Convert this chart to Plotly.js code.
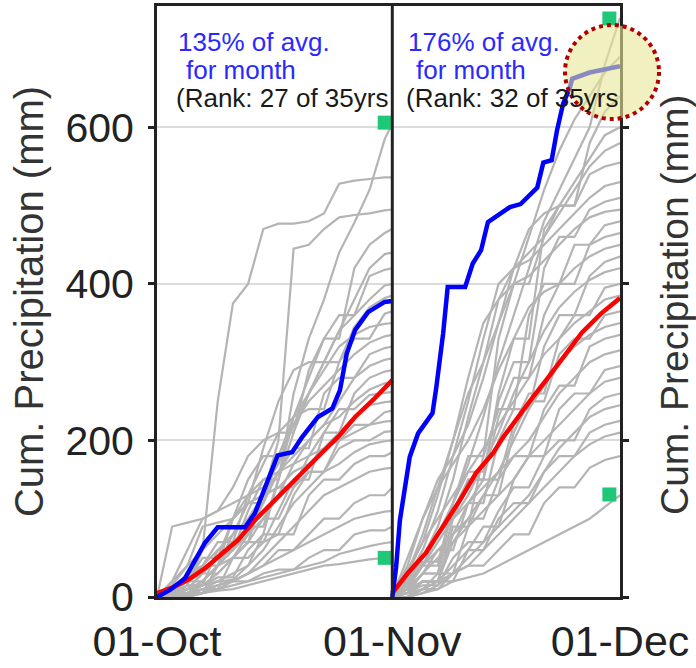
<!DOCTYPE html>
<html><head><meta charset="utf-8">
<script src="https://cdn.plot.ly/plotly-3.0.1.min.js"></script>
<style>html,body{margin:0;padding:0;background:#fff}#chart{width:696px;height:668px}</style>
</head><body><div id="chart"></div>
<script>
// ---- data (days since start of month, cumulative precipitation in mm) ----
const octDays = [0,2,4,6,8,10,12,14,16,18,20,22,24,26,28,30,31];
const novDays = [0,2,4,6,8,10,12,14,16,18,20,22,24,26,28,30];
const octGray = [
 [0,5,10,15,20,22,40,80,150,260,330,380,440,478,520,585,605],
 [0,2,15,60,250,375,400,470,477,477,480,490,528,532,534,536,536],
 [0,5,10,20,40,60,90,130,200,445,450,470,485,488,490,494,495],
 [0,10,20,40,70,70,130,170,210,210,290,330,330,420,450,465,470],
 [0,0,5,20,40,80,120,190,250,290,300,300,340,380,420,438,440],
 [0,8,25,40,40,100,150,180,180,230,280,330,360,360,410,418,420],
 [0,0,10,30,50,70,90,90,150,210,260,300,340,360,380,398,400],
 [0,15,40,90,95,100,130,140,170,220,260,300,300,345,370,382,385],
 [0,5,15,15,60,60,110,150,150,230,240,240,300,330,330,362,365],
 [0,20,60,100,110,140,180,200,210,230,260,290,320,335,345,349,350],
 [0,0,10,15,30,50,80,120,180,220,250,270,290,310,325,333,335],
 [0,5,20,50,50,100,120,120,160,190,190,260,280,280,310,318,320],
 [0,10,30,40,60,80,100,130,160,180,200,220,250,280,295,303,305],
 [0,0,5,5,40,70,70,130,140,140,180,210,210,260,280,288,290],
 [0,8,20,30,50,60,80,100,130,170,200,220,230,250,265,273,275],
 [0,0,0,10,10,50,70,70,110,150,150,210,240,240,258,261,262],
 [0,20,40,60,80,100,120,130,140,160,170,190,210,230,245,249,250],
 [0,0,10,30,30,50,70,100,100,140,160,160,200,220,220,236,238],
 [0,90,95,100,110,120,130,150,160,170,180,190,200,210,220,224,225],
 [0,5,5,15,25,25,60,80,80,130,160,160,190,200,200,211,212],
 [0,0,5,10,20,30,40,60,90,120,140,160,170,185,195,199,200],
 [0,10,20,20,40,50,50,70,80,80,130,150,150,170,180,180,185],
 [0,0,0,5,10,20,30,50,70,90,110,130,140,150,160,164,165],
 [0,5,5,15,20,20,30,40,60,60,80,100,100,120,130,130,140],
 [0,0,5,10,15,20,30,40,50,60,70,80,90,100,105,109,110],
 [0,2,5,5,15,20,20,30,35,35,50,60,60,80,85,85,90],
 [0,0,0,5,10,15,20,25,30,35,40,45,55,60,65,69,70],
 [0,0,2,5,8,10,15,20,25,30,35,40,42,45,48,50,50]
];
const novGray = [
 [0,15,40,80,120,170,230,300,360,420,480,520,560,600,680,740],
 [0,30,80,140,200,260,300,350,400,460,520,570,610,640,670,690],
 [0,10,30,30,120,180,180,330,400,400,460,500,500,580,620,640],
 [0,40,100,150,180,220,280,350,420,470,490,500,530,560,590,600],
 [0,20,50,90,150,230,300,380,420,440,460,490,520,550,570,580],
 [0,5,30,30,100,150,150,260,330,330,470,500,500,540,550,555],
 [0,25,60,110,180,250,330,400,420,430,450,470,490,510,525,530],
 [0,10,40,40,120,160,160,250,300,300,420,460,460,495,505,510],
 [0,30,70,130,200,280,350,380,400,410,430,450,470,485,492,495],
 [0,0,20,20,90,90,180,240,240,360,400,400,450,450,475,480],
 [0,15,45,45,110,150,150,230,280,280,360,400,400,450,460,465],
 [0,50,100,140,170,200,240,290,330,370,390,400,420,435,445,450],
 [0,5,20,20,80,120,120,200,240,240,320,360,360,410,428,435],
 [0,20,40,70,100,130,170,210,260,300,340,370,390,405,415,420],
 [0,10,30,60,60,120,150,150,220,260,260,330,360,360,395,400],
 [0,35,70,100,130,160,190,220,250,280,310,330,350,365,380,385],
 [0,0,10,30,30,90,130,130,210,250,250,310,330,330,360,365],
 [0,15,40,60,80,100,130,160,200,240,270,300,320,335,345,350],
 [0,5,20,20,70,100,100,150,180,180,240,270,270,320,330,335],
 [0,25,50,80,100,120,140,160,180,200,230,260,280,300,310,315],
 [0,0,10,20,20,60,90,90,150,180,180,240,260,260,290,295],
 [0,10,30,50,70,90,110,130,150,180,200,220,240,260,275,280],
 [0,5,15,15,50,70,70,110,140,140,180,200,200,240,255,260],
 [0,0,5,15,30,50,70,90,110,130,160,190,210,230,240,245],
 [0,10,20,20,40,60,60,100,120,120,160,180,180,210,220,225],
 [0,0,10,20,30,40,60,80,100,120,140,160,180,195,205,210],
 [0,5,10,10,30,40,40,60,80,80,120,140,140,165,175,180],
 [0,0,5,10,20,25,30,40,50,60,70,80,90,100,115,130]
];
const octBlueDays = [0,1.7,3.7,6.3,8.0,11.6,12.9,14.2,15.9,17.8,19.1,21.2,23.1,24.1,25.0,26.1,27.8,30.0,31];
const octBlue     = [0,9,24,69,89,89,107,140,181,185,204,230,241,264,311,341,364,377,378];
const octRedDays  = [0,2,4.1,6.5,8.5,10.7,12.9,14.6,17.3,19.5,21.7,24,26.1,28.5,31];
const octRed      = [5,12,22,38,55,73,98,115,140,162,184,206,230,252,277];
const novBlueDays = [0,0.5,1.0,2.3,3.4,5.3,5.8,6.7,7.3,9.6,10.6,11.7,12.6,15.5,16.9,19.1,19.9,21.0,21.7,22.5,23.4,23.7,26.0,29.6,30];
const novBlue     = [0,38,98,179,209,235,268,337,396,396,426,443,479,498,502,523,555,558,596,630,651,662,670,677,678];
const novRedDays  = [0,2,4.4,7,9,11,13.3,14.6,16.5,18.5,20.5,22.5,25,27.5,30];
const novRed      = [5,30,56,95,125,158,184,204,230,255,280,306,338,362,382];
const monthStart  = [0,31];            // x offset of each month panel
const extremeDays = [30,30,28.6,28.6];
const extremeVals = [606,50,739,131];
const tickDays    = [0,31,61];
const tickLabels  = ["01-Oct","01-Nov","01-Dec"];
const pctText     = ["135% of avg.","176% of avg."];
const rankText    = ["(Rank: 27 of 35yrs","(Rank: 32 of 35yrs"];

const FONT = "Liberation Sans, Arial, Helvetica, sans-serif";
const traces = [];
function addGray(days, rows, off){
  rows.forEach(r => traces.push({x: days.map(d=>d+off), y: r, type:'scatter', mode:'lines',
    line:{color:'#b4b4b4', width:2.2}, hoverinfo:'skip', showlegend:false}));
}
addGray(octDays, octGray, monthStart[0]);
addGray(novDays, novGray, monthStart[1]);
[[octRedDays,octRed,0],[novRedDays,novRed,1]].forEach(([d,v,i]) =>
  traces.push({x:d.map(t=>t+monthStart[i]), y:v, type:'scatter', mode:'lines',
    line:{color:'#ff0000', width:4.5}, showlegend:false}));
[[octBlueDays,octBlue,0],[novBlueDays,novBlue,1]].forEach(([d,v,i]) =>
  traces.push({x:d.map(t=>t+monthStart[i]), y:v, type:'scatter', mode:'lines',
    line:{color:'#0000ff', width:4.5}, showlegend:false}));
traces.push({x: extremeDays.map((d,i)=>d+monthStart[i<2?0:1]), y: extremeVals, type:'scatter', mode:'markers',
  marker:{symbol:'square', size:14, color:'#1ec878'}, showlegend:false, cliponaxis:false});

const W = 463, H = 591, L = 157, T = 6;
const px = x => (x - L)/W, py = y => (T + H - y)/H;
const annotations = [];
[0,1].forEach(i => {
  const x0 = i===0 ? 176 : 406;
  annotations.push({xref:'paper', yref:'paper', x:px(x0), y:py(42), xanchor:'left', yanchor:'middle', showarrow:false,
    text:pctText[i], font:{family:FONT, size:26, color:'#2a2aff'}});
  annotations.push({xref:'paper', yref:'paper', x:px(x0+8), y:py(70), xanchor:'left', yanchor:'middle', showarrow:false,
    text:'for month', font:{family:FONT, size:26, color:'#2a2aff'}});
  annotations.push({xref:'paper', yref:'paper', x:px(x0-2), y:py(98), xanchor:'left', yanchor:'middle', showarrow:false,
    text:rankText[i], font:{family:FONT, size:26, color:'#1a1a1a'}});
});
annotations.push({xref:'paper', yref:'paper', x:px(674), y:py(305), xanchor:'center', yanchor:'middle', showarrow:false,
  textangle:-90, text:'Cum. Precipitation (mm)', font:{family:FONT, size:39, color:'#333'}});

const layout = {
  width:696, height:668,
  margin:{l:L, r:696-L-W, t:T, b:668-T-H, pad:0},
  paper_bgcolor:'#fff', plot_bgcolor:'#fff',
  font:{family:FONT, color:'#222'},
  xaxis:{range:[0,61], tickvals:tickDays, ticktext:tickLabels, tickfont:{size:43, color:'#222'}, ticklabelstandoff:4,
    showline:true, mirror:true, linecolor:'#222', linewidth:3, showgrid:false, zeroline:false, ticks:''},
  yaxis:{range:[0,755], tickvals:[0,200,400,600], tickfont:{size:41, color:'#222'}, ticklabelstandoff:6,
    showline:true, mirror:'ticks', linecolor:'#222', linewidth:3, ticks:'outside', ticklen:6, tickwidth:3, tickcolor:'#222',
    showgrid:true, gridcolor:'#dcdcdc', gridwidth:2, zeroline:false,
    title:{text:'Cum. Precipitation (mm)', font:{family:FONT, size:40, color:'#333'}, standoff:10}},
  shapes:[
    {type:'line', xref:'x', yref:'paper', x0:monthStart[1], x1:monthStart[1], y0:0, y1:1, line:{color:'#222', width:3}},
    {type:'circle', xref:'paper', yref:'paper', layer:'above', x0:px(565), x1:px(659), y0:py(25), y1:py(119),
     fillcolor:'rgba(232,230,150,0.6)', line:{color:'#b00000', width:4, dash:'dot'}}
  ],
  annotations: annotations,
  showlegend:false
};
Plotly.newPlot('chart', traces, layout, {staticPlot:true, displayModeBar:false});
</script></body></html>
